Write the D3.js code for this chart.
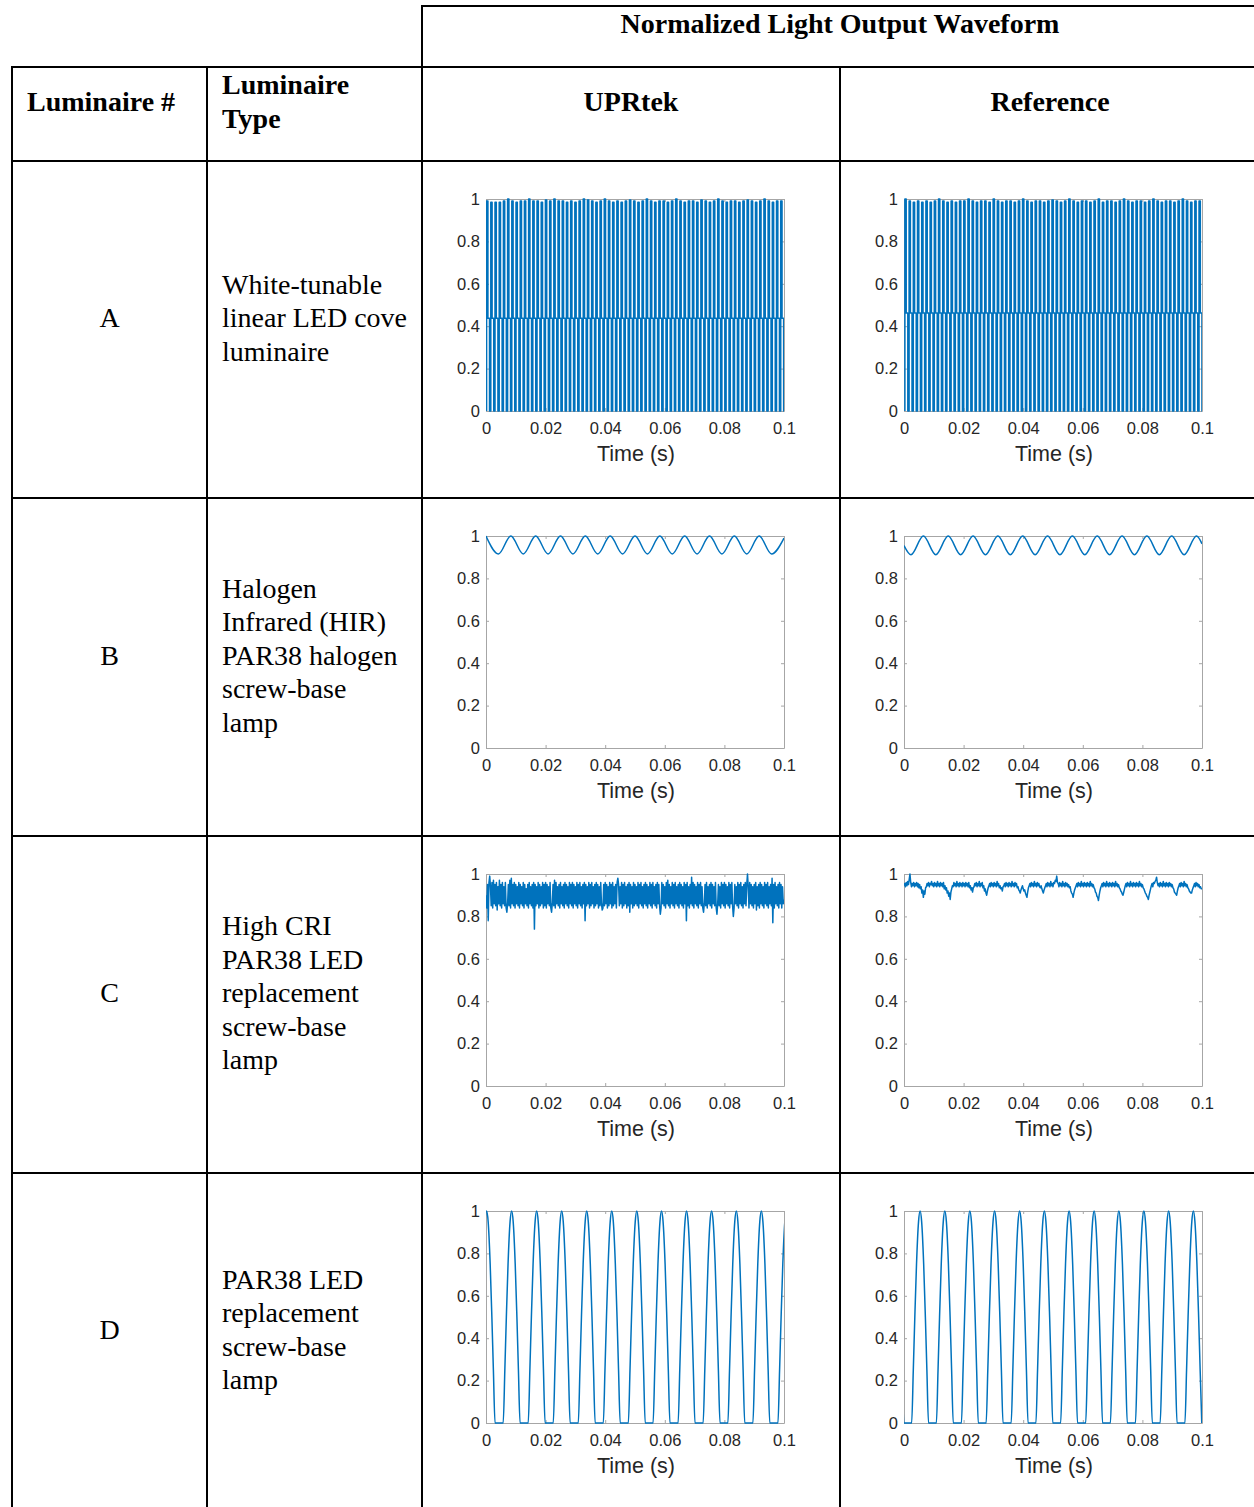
<!DOCTYPE html>
<html><head><meta charset="utf-8">
<script src="https://cdn.jsdelivr.net/npm/d3@7"></script>
<style>body{margin:0;background:#fff}svg{display:block}</style>
</head><body><svg id="c" width="1254" height="1507"></svg>
<script>
// ---------------- DATA ----------------
const headerTitle = "Normalized Light Output Waveform";
const colHeaders = ["Luminaire #", ["Luminaire", "Type"]];
const columnTitles = ["UPRtek", "Reference"];
const luminaireIds = ["A", "B", "C", "D"];
const luminaireTypes = [
  ["White-tunable", "linear LED cove", "luminaire"],
  ["Halogen", "Infrared (HIR)", "PAR38 halogen", "screw-base", "lamp"],
  ["High CRI", "PAR38 LED", "replacement", "screw-base", "lamp"],
  ["PAR38 LED", "replacement", "screw-base", "lamp"]
];
const xTicks = [0, 0.02, 0.04, 0.06, 0.08, 0.1];
const xTickLabels = ["0", "0.02", "0.04", "0.06", "0.08", "0.1"];
const yTicks = [0, 0.2, 0.4, 0.6, 0.8, 1];
const yTickLabels = ["0", "0.2", "0.4", "0.6", "0.8", "1"];
const xLabel = "Time (s)";

// A: PWM pulse train (period, pulse tops, intermediate step level)
const aPeriod = 0.00141;
const aHighDur = 0.00044;
const aStepDur = 0.00054;
const aStartUpr = 0.0002;
const aStartRef = 0.0003;
const aMidUpr = 0.437;
const aMidRef = 0.462;
const aPeaksUpr = [0.99,0.985,0.985,0.985,0.99,1.0,0.99,0.985,0.99,0.99,1.0,0.99,0.99,0.985,0.995,0.99,1.0,0.99,0.99,0.985,0.99,0.985,0.99,1.0,0.995,0.99,0.985,0.99,1.0,0.99,0.985,0.99,0.985,0.99,0.995,0.99,0.985,0.99,1.0,0.99,0.985,0.99,0.99,0.985,0.99,1.0,0.99,0.985,0.99,0.99,0.985,0.995,0.99,0.985,0.99,1.0,0.99,0.985,0.99,0.99,0.985,0.99,0.995,0.99,0.985,0.99,1.0,0.99,0.985,0.99,0.99,0.985];
const aPeaksRef = [1.0,0.99,0.985,0.99,0.985,0.99,0.985,0.99,1.0,0.99,0.985,0.99,0.985,0.99,0.99,1.0,0.99,0.985,0.99,0.99,0.985,1.0,0.99,0.985,0.99,0.99,0.985,0.99,1.0,0.99,0.985,0.99,0.99,0.985,0.99,0.995,0.99,0.985,0.99,1.0,0.99,0.985,0.99,0.99,0.985,0.99,1.0,0.985,0.99,0.99,0.985,0.99,1.0,0.99,0.985,0.99,0.99,0.985,0.99,1.0,0.99,0.985,0.99,0.99,0.985,0.99,1.0,0.99,0.985,0.99,0.99,1.0];

// B: halogen ripple, extremes (time, value)
const bUprT = [0,0.00417,0.00833,0.0125,0.01667,0.02083,0.025,0.02917,0.03333,0.0375,0.04167,0.04583,0.05,0.05417,0.05833,0.0625,0.06667,0.07083,0.075,0.07917,0.08333,0.0875,0.09167,0.09583,0.1];
const bUprV = [1.0,0.915,1.0,0.915,1.0,0.915,1.0,0.915,1.0,0.915,1.0,0.915,1.0,0.915,1.0,0.915,1.0,0.915,1.0,0.915,1.0,0.915,1.0,0.915,0.99];
const bRefT = [0,0.00233,0.0065,0.01067,0.01483,0.019,0.02317,0.02733,0.0315,0.03567,0.03983,0.044,0.04817,0.05233,0.0565,0.06067,0.06483,0.069,0.07317,0.07733,0.0815,0.08567,0.08983,0.094,0.09817,0.1];
const bRefV = [0.955,0.912,1.0,0.912,1.0,0.912,1.0,0.912,1.0,0.912,1.0,0.912,1.0,0.912,1.0,0.912,1.0,0.912,1.0,0.912,1.0,0.912,1.0,0.912,1.0,0.963];

// C: noisy output, samples every 0.25 ms
const cStep = 0.00025;
const cUpr = [
0.90,0.84,0.95,0.78,0.96,0.99,0.94,0.85,0.96,0.84,0.97,0.86,0.95,0.85,0.96,0.83,0.94,0.86,0.97,0.85,0.95,0.84,0.96,0.86,0.94,0.85,0.96,0.84,0.82,0.86,0.95,0.85,0.97,0.84,0.98,0.86,0.95,0.85,0.96,0.84,
0.95,0.86,0.94,0.85,0.96,0.84,0.95,0.86,0.94,0.85,0.96,0.84,0.95,0.86,0.93,0.85,0.95,0.84,0.96,0.86,0.94,0.85,0.95,0.84,0.96,0.74,0.95,0.85,0.94,0.86,0.96,0.84,0.95,0.85,0.94,0.86,0.96,0.84,0.95,0.85,
0.96,0.84,0.95,0.86,0.94,0.85,0.96,0.84,0.82,0.86,0.95,0.85,0.97,0.84,0.96,0.86,0.94,0.85,0.95,0.84,0.96,0.86,0.94,0.85,0.95,0.84,0.96,0.86,0.95,0.85,0.94,0.84,0.96,0.86,0.95,0.85,0.96,0.84,0.95,0.86,
0.94,0.85,0.96,0.84,0.95,0.86,0.96,0.85,0.94,0.84,0.95,0.86,0.96,0.78,0.95,0.85,0.94,0.86,0.96,0.84,0.95,0.85,0.96,0.86,0.94,0.84,0.95,0.85,0.96,0.86,0.95,0.84,0.94,0.85,0.96,0.86,0.83,0.84,0.95,0.85,
0.96,0.86,0.95,0.84,0.94,0.85,0.96,0.86,0.95,0.84,0.96,0.85,0.94,0.86,0.95,0.84,0.96,0.98,0.95,0.85,0.94,0.86,0.96,0.84,0.95,0.85,0.96,0.86,0.94,0.84,0.95,0.85,0.96,0.82,0.95,0.86,0.94,0.84,0.96,0.85,
0.95,0.86,0.94,0.85,0.96,0.84,0.95,0.86,0.96,0.85,0.94,0.84,0.95,0.86,0.96,0.85,0.95,0.84,0.94,0.86,0.96,0.85,0.95,0.84,0.96,0.86,0.94,0.85,0.95,0.84,0.96,0.86,0.95,0.85,0.81,0.84,0.96,0.86,0.95,0.85,
0.94,0.84,0.96,0.86,0.97,0.85,0.95,0.84,0.94,0.86,0.96,0.85,0.95,0.84,0.96,0.86,0.94,0.85,0.95,0.84,0.96,0.86,0.95,0.85,0.94,0.84,0.96,0.86,0.95,0.78,0.96,0.85,0.94,0.84,0.95,0.86,0.985,0.85,0.96,0.84,
0.95,0.86,0.94,0.85,0.96,0.84,0.95,0.86,0.96,0.85,0.94,0.84,0.82,0.86,0.95,0.85,0.96,0.84,0.94,0.86,0.95,0.85,0.96,0.84,0.95,0.86,0.94,0.85,0.96,0.84,0.81,0.86,0.95,0.85,0.94,0.84,0.96,0.86,0.95,0.85,
0.96,0.84,0.95,0.86,0.94,0.85,0.96,0.84,0.95,0.86,0.96,0.85,0.80,0.84,0.95,0.86,0.94,0.85,0.96,0.84,0.95,0.86,0.96,0.85,0.94,0.84,0.95,0.86,0.96,0.85,0.95,1.0,0.94,0.84,0.96,0.86,0.95,0.85,0.94,0.84,
0.95,0.86,0.96,0.83,0.94,0.85,0.95,0.84,0.96,0.86,0.95,0.85,0.94,0.84,0.96,0.86,0.95,0.85,0.96,0.84,0.94,0.86,0.95,0.85,0.98,0.77,0.95,0.84,0.96,0.86,0.94,0.85,0.95,0.84,0.96,0.86,0.95,0.84,0.94,0.86,
0.88];
const cRef = [
0.945,0.955,0.94,0.96,0.945,0.965,0.95,0.975,1.0,0.96,0.94,0.955,0.945,0.96,0.94,0.955,0.945,0.96,0.94,0.955,0.935,0.95,0.93,0.94,0.91,0.925,0.89,0.92,0.905,0.935,0.94,0.955,0.945,0.96,0.94,0.955,0.95,0.965,0.945,0.955,
0.94,0.96,0.945,0.955,0.94,0.965,0.945,0.955,0.94,0.96,0.945,0.955,0.94,0.96,0.93,0.945,0.925,0.935,0.91,0.92,0.895,0.91,0.88,0.915,0.93,0.945,0.94,0.96,0.945,0.955,0.94,0.965,0.945,0.955,0.94,0.96,0.945,0.955,0.94,0.96,
0.945,0.955,0.94,0.96,0.945,0.955,0.94,0.96,0.935,0.945,0.925,0.935,0.915,0.935,0.94,0.955,0.945,0.96,0.94,0.955,0.945,0.965,0.94,0.955,0.945,0.96,0.935,0.945,0.92,0.93,0.91,0.90,0.92,0.935,0.945,0.955,0.94,0.96,0.945,0.955,
0.94,0.96,0.945,0.955,0.94,0.965,0.945,0.955,0.935,0.945,0.93,0.935,0.92,0.94,0.945,0.955,0.94,0.96,0.945,0.955,0.94,0.96,0.945,0.955,0.94,0.965,0.945,0.955,0.94,0.96,0.945,0.955,0.935,0.94,0.925,0.92,0.91,0.925,0.935,0.945,
0.93,0.92,0.925,0.91,0.90,0.89,0.915,0.935,0.945,0.955,0.94,0.96,0.945,0.955,0.94,0.965,0.945,0.955,0.94,0.96,0.945,0.955,0.94,0.935,0.945,0.93,0.92,0.91,0.925,0.935,0.945,0.955,0.94,0.96,0.945,0.955,0.94,0.965,0.945,0.955,
0.94,0.96,0.955,0.97,0.965,0.99,0.96,0.955,0.94,0.96,0.945,0.955,0.94,0.965,0.945,0.955,0.94,0.96,0.945,0.955,0.94,0.95,0.935,0.94,0.92,0.91,0.905,0.89,0.91,0.925,0.935,0.945,0.955,0.94,0.96,0.945,0.955,0.94,0.965,0.945,
0.955,0.94,0.96,0.945,0.955,0.94,0.96,0.945,0.955,0.94,0.965,0.945,0.955,0.94,0.95,0.935,0.93,0.915,0.91,0.895,0.89,0.875,0.90,0.92,0.935,0.945,0.955,0.94,0.96,0.945,0.955,0.94,0.965,0.945,0.955,0.94,0.96,0.945,0.955,0.94,
0.96,0.945,0.955,0.94,0.965,0.945,0.955,0.94,0.95,0.935,0.93,0.92,0.915,0.905,0.90,0.915,0.93,0.945,0.955,0.94,0.96,0.945,0.955,0.94,0.965,0.945,0.955,0.94,0.96,0.945,0.955,0.94,0.96,0.945,0.955,0.94,0.965,0.945,0.955,0.94,
0.95,0.935,0.93,0.92,0.91,0.905,0.895,0.89,0.88,0.90,0.915,0.93,0.945,0.955,0.94,0.96,0.955,0.965,0.97,0.985,0.96,0.945,0.955,0.94,0.96,0.945,0.955,0.94,0.965,0.945,0.955,0.94,0.96,0.945,0.955,0.94,0.96,0.945,0.955,0.94,
0.95,0.935,0.93,0.915,0.91,0.905,0.90,0.92,0.935,0.945,0.955,0.94,0.96,0.945,0.955,0.94,0.965,0.945,0.955,0.94,0.95,0.935,0.93,0.92,0.915,0.91,0.91,0.925,0.935,0.945,0.955,0.94,0.96,0.945,0.955,0.94,0.95,0.935,0.94,0.93,
0.93];

// D: clipped rectified-sine pulses: peak times and hump profile (offset from peak, level)
const dPeaksUpr = [0.0002,0.0086,0.0170,0.0254,0.0338,0.0422,0.0506,0.0589,0.0673,0.0757,0.0840,0.0924,0.1008];
const dPeaksRef = [-0.0029,0.0054,0.0137,0.0221,0.0304,0.0388,0.0471,0.0554,0.0638,0.0721,0.0805,0.0888,0.0971];
const dHumpOffsets = [-0.00283,-0.00228,-0.00177,-0.0012,-0.00052,0,0.00052,0.0012,0.00177,0.00228,0.00283];
const dHumpLevels  = [0,0.25,0.5,0.75,0.95,1,0.95,0.75,0.5,0.25,0];

// ---------------- BUILD SERIES ----------------
function pulseTrain(start, peaks, mid) {
  const pts = [];
  peaks.forEach((pk, i) => {
    const t0 = start + i * aPeriod;
    pts.push([t0, 0], [t0, pk], [t0 + aHighDur, pk], [t0 + aHighDur, mid],
             [t0 + aHighDur + aStepDur, mid], [t0 + aHighDur + aStepDur, 0]);
  });
  return pts;
}
function zipTV(ts, vs) { return ts.map((t, i) => [t, vs[i]]); }
function sampled(vals) { return vals.map((v, i) => [i * cStep, v]); }
function humps(peaks) {
  const pts = [];
  peaks.forEach(p => dHumpOffsets.forEach((o, j) => pts.push([p + o, dHumpLevels[j]])));
  return pts;
}
const series = [
  [{pts: pulseTrain(aStartUpr, aPeaksUpr, aMidUpr), curve: d3.curveLinear},
   {pts: pulseTrain(aStartRef, aPeaksRef, aMidRef), curve: d3.curveLinear}],
  [{pts: zipTV(bUprT, bUprV), curve: d3.curveMonotoneX},
   {pts: zipTV(bRefT, bRefV), curve: d3.curveMonotoneX}],
  [{pts: sampled(cUpr), curve: d3.curveLinear},
   {pts: sampled(cRef), curve: d3.curveLinear}],
  [{pts: humps(dPeaksUpr), curve: d3.curveMonotoneX},
   {pts: humps(dPeaksRef), curve: d3.curveMonotoneX}]
];

// ---------------- LAYOUT ----------------
const svg = d3.select("#c");
svg.append("rect").attr("width", 1254).attr("height", 1507).attr("fill", "#fff");

const serif = "'Liberation Serif','Times New Roman',serif";
const sans = "'Liberation Sans',Arial,sans-serif";
const colX = [12, 207, 422, 840, 1260];
const rowY = [67, 161, 498, 836, 1173, 1510];
const lineW = 2;

// table lines
const tbl = svg.append("g").attr("stroke", "#000").attr("stroke-width", lineW);
tbl.append("line").attr("x1", colX[2] - 1).attr("x2", 1254).attr("y1", 6).attr("y2", 6);
rowY.slice(0, 5).forEach(y => tbl.append("line").attr("x1", colX[0] - 1).attr("x2", 1254).attr("y1", y).attr("y2", y));
tbl.append("line").attr("x1", colX[2]).attr("x2", colX[2]).attr("y1", 5).attr("y2", 1507);
[colX[0], colX[1], colX[3]].forEach(x => tbl.append("line").attr("x1", x).attr("x2", x).attr("y1", rowY[0] - 1).attr("y2", 1507));

// headers
const hdr = svg.append("g").attr("font-family", serif).attr("font-weight", "bold").attr("font-size", 28).attr("fill", "#000");
hdr.append("text").attr("x", 840).attr("y", 33).attr("text-anchor", "middle").text(headerTitle);
hdr.append("text").attr("x", 27).attr("y", 111).text(colHeaders[0]);
colHeaders[1].forEach((s, i) => hdr.append("text").attr("x", 222).attr("y", 94 + i * 34).text(s));
hdr.append("text").attr("x", (colX[2] + colX[3]) / 2).attr("y", 111).attr("text-anchor", "middle").text(columnTitles[0]);
hdr.append("text").attr("x", 1050).attr("y", 111).attr("text-anchor", "middle").text(columnTitles[1]);

// row labels
const body = svg.append("g").attr("font-family", serif).attr("font-size", 28).attr("fill", "#000");
luminaireIds.forEach((id, r) => {
  const cy = (rowY[r + 1] + rowY[r + 2]) / 2 - 11.5;
  body.append("text").attr("x", 109.5).attr("y", cy + 9).attr("text-anchor", "middle").text(id);
  const lines = luminaireTypes[r];
  const lh = 33.5;
  lines.forEach((s, i) => body.append("text").attr("x", 222)
    .attr("y", cy + 9 + (i - (lines.length - 1) / 2) * lh).text(s));
});

// plots
const plotLeft = [486, 904];
const plotW = 298, plotH = 212;
const axisCol = "#262626";
series.forEach((row, r) => {
  const top = rowY[r + 1] + 38;
  row.forEach((s, c) => {
    const x = d3.scaleLinear().domain([0, 0.1]).range([plotLeft[c], plotLeft[c] + plotW]);
    const y = d3.scaleLinear().domain([0, 1]).range([top + plotH, top]);
    const g = svg.append("g");
    const cid = `clip${r}_${c}`;
    g.append("clipPath").attr("id", cid).append("rect")
      .attr("x", x(0)).attr("y", y(1) - 2).attr("width", plotW).attr("height", plotH + 4);
    const fmtX = (d, i) => xTickLabels[i];
    const fmtY = (d, i) => yTickLabels[i];
    const ax = g.append("g").attr("transform", `translate(0,${y(0)})`)
      .call(d3.axisBottom(x).tickValues(xTicks).tickFormat(fmtX).tickSizeInner(-3).tickSizeOuter(0).tickPadding(11));
    const ay = g.append("g").attr("transform", `translate(${x(0)},0)`)
      .call(d3.axisLeft(y).tickValues(yTicks).tickFormat(fmtY).tickSizeInner(-3).tickSizeOuter(0).tickPadding(6));
    const at = g.append("g").attr("transform", `translate(0,${y(1)})`)
      .call(d3.axisTop(x).tickValues(xTicks).tickFormat("").tickSizeInner(-3).tickSizeOuter(0));
    const ar = g.append("g").attr("transform", `translate(${x(0.1)},0)`)
      .call(d3.axisRight(y).tickValues(yTicks).tickFormat("").tickSizeInner(-3).tickSizeOuter(0));
    [ax, ay, at, ar].forEach(a => {
      a.select(".domain").attr("stroke", "#a6a6a6").attr("stroke-width", 1);
      a.selectAll(".tick line").attr("stroke", "#a6a6a6").attr("stroke-width", 1);
      a.selectAll("text").attr("font-family", sans).attr("font-size", 16.5).attr("fill", axisCol);
    });
    g.append("text").attr("x", x(0.05) + 1).attr("y", y(0) + 50).attr("text-anchor", "middle")
      .attr("font-family", sans).attr("font-size", 21.5).attr("fill", axisCol).text(xLabel);
    g.append("path").datum(s.pts)
      .attr("clip-path", `url(#${cid})`)
      .attr("fill", "none").attr("stroke", "#0072BD").attr("stroke-width", 1.5)
      .attr("stroke-linejoin", "round")
      .attr("d", d3.line().x(d => x(d[0])).y(d => y(d[1])).curve(s.curve));
  });
});
</script></body></html>
